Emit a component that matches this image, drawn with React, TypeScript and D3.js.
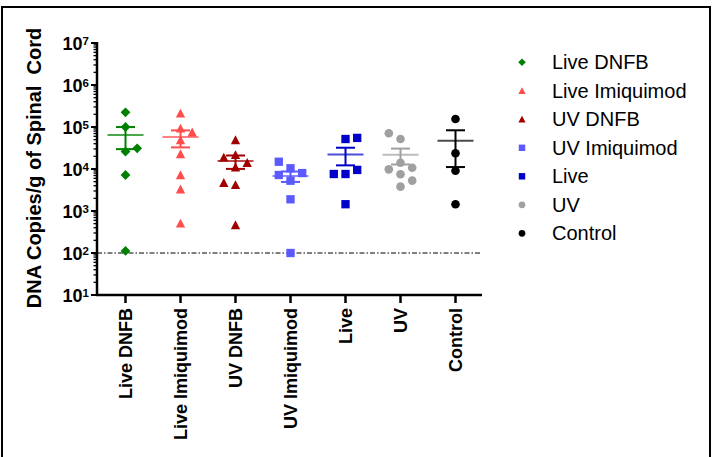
import React from "react";
import * as d3 from "d3";

// groups on the x axis
const categories = ["Live DNFB", "Live Imiquimod", "UV DNFB", "UV Imiquimod", "Live", "UV", "Control"];

// DNA copies / g of spinal cord, one array per group (order = order points were laid out)
const liveDNFB = [224000, 100000, 26000, 31000, 7200, 112];
const liveImiquimod = [212000, 93000, 49000, 75000, 22800, 7200, 3300, 510];
const uvDNFB = [49000, 11000, 14100, 21600, 19000, 4200, 4700, 464];
const uvImiquimod = [10400, 5260, 8000, 7200, 14900, 1900, 100];
const live = [51800, 55000, 7600, 7600, 9500, 1450];
const uv = [14100, 10700, 9800, 7500, 5300, 3800, 51800, 70800];
const control = [155000, 23700, 9100, 1450];

const seriesValues = [liveDNFB, liveImiquimod, uvDNFB, uvImiquimod, live, uv, control];
const shapes = ["diamond", "triangle", "triangle", "square", "square", "circle", "circle"];
const colors = ["#008000", "#ff4c4c", "#a00000", "#5a5aff", "#0000c8", "#a0a0a0", "#000000"];

const yTicks = [1e1, 1e2, 1e3, 1e4, 1e5, 1e6, 1e7];
const detectionLimit = 100;

const W = 716;
const H = 457;
const FONT = "'Liberation Sans', Arial, sans-serif";

const y = d3.scaleLog().domain([10, 1e7]).range([295, 43]);
const x = d3.scalePoint<string>().domain(categories).range([98, 483]).padding(0.5);

const STEP = 11.7;
const THRESH = 10;

// simple column scatter: push colliding points sideways to the side with more room
function dodge(values: number[]) {
  const placed: { py: number; k: number }[] = [];
  return values.map((v) => {
    const py = y(v);
    const room = (k: number) => {
      let m = Infinity;
      placed.forEach((p) => {
        if (p.k === k) m = Math.min(m, Math.abs(p.py - py));
      });
      return m;
    };
    let k = 0;
    if (room(0) < THRESH) {
      for (let j = 1; j < 10; j++) {
        const r1 = room(j);
        const r2 = room(-j);
        if (r1 >= THRESH || r2 >= THRESH) {
          k = r1 >= r2 ? j : -j;
          break;
        }
      }
    }
    placed.push({ py, k });
    return { v, py, k };
  });
}

function markerPath(shape: string, s: number) {
  if (shape === "diamond") return `M0,${-s}L${s},0L0,${s}L${-s},0Z`;
  if (shape === "triangle") return `M0,${-s * 0.95}L${s * 0.95},${s * 0.85}L${-s * 0.95},${s * 0.85}Z`;
  if (shape === "square") return `M${-s * 0.85},${-s * 0.85}h${s * 1.7}v${s * 1.7}h${-s * 1.7}Z`;
  return d3.arc()({ innerRadius: 0, outerRadius: s * 0.88, startAngle: 0, endAngle: Math.PI * 2 }) as string;
}

const App = () => {
  const axisX = 97;
  const axisY = 295;

  const minorTicks: number[] = [];
  for (let e = 1; e < 7; e++) for (let m = 2; m <= 9; m++) minorTicks.push(m * Math.pow(10, e));

  return (
    <svg width={W} height={H} style={{ position: "absolute", left: 0, top: 0, background: "#fff" }} fontFamily={FONT}>
      <rect x={2} y={7} width={708} height={470} fill="none" stroke="#000" strokeWidth={2} />

      {/* y axis title */}
      <text
        transform={`translate(41,168) rotate(-90)`}
        textAnchor="middle"
        fontSize={20}
        fontWeight="bold"
        style={{ whiteSpace: "pre" }}
      >
        {"DNA Copies/g of Spinal  Cord"}
      </text>

      {/* y axis */}
      <line x1={axisX} x2={axisX} y1={y(1e7) - 1} y2={axisY} stroke="#000" strokeWidth={2.5} />
      {minorTicks.map((t) => (
        <line key={t} x1={axisX - 3.5} x2={axisX} y1={y(t)} y2={y(t)} stroke="#000" strokeWidth={1.3} />
      ))}
      {yTicks.map((t) => (
        <g key={t}>
          <line x1={axisX - 6} x2={axisX} y1={y(t)} y2={y(t)} stroke="#000" strokeWidth={2} />
          <text x={89} y={y(t) + 7} textAnchor="end" fontSize={18} fontWeight="bold">
            10
            <tspan fontSize={11.5} dy={-5}>
              {Math.round(Math.log10(t))}
            </tspan>
          </text>
        </g>
      ))}

      {/* x axis */}
      <line x1={axisX - 1} x2={482} y1={axisY} y2={axisY} stroke="#000" strokeWidth={2.5} />
      {categories.map((c) => (
        <g key={c}>
          <line x1={x(c)} x2={x(c)} y1={axisY} y2={axisY + 8} stroke="#000" strokeWidth={2.5} />
          <text
            transform={`translate(${x(c)},308) rotate(-90)`}
            textAnchor="end"
            dy="0.36em"
            fontSize={18}
            fontWeight="bold"
          >
            {c}
          </text>
        </g>
      ))}

      {/* limit of detection */}
      <line
        x1={axisX}
        x2={482}
        y1={y(detectionLimit)}
        y2={y(detectionLimit)}
        stroke="#000"
        strokeWidth={1}
        strokeDasharray="5,2,1.5,2"
      />

      {/* points, mean and SEM */}
      {categories.map((c, i) => {
        const vals = seriesValues[i];
        const pts = dodge(vals);
        const cx = x(c) as number;
        const mean = d3.mean(vals) as number;
        const sem = (d3.deviation(vals) as number) / Math.sqrt(vals.length);
        const yHi = y(mean + sem);
        const yLo = y(mean - sem);
        return (
          <g key={c}>
            {pts.map((p, j) => (
              <path
                key={j}
                transform={`translate(${cx + p.k * STEP},${p.py})`}
                d={markerPath(shapes[i], 4.9)}
                fill={colors[i]}
              />
            ))}
            <line x1={cx} x2={cx} y1={yHi} y2={yLo} stroke={colors[i]} strokeWidth={2} />
            <line x1={cx - 9.5} x2={cx + 9.5} y1={yHi} y2={yHi} stroke={colors[i]} strokeWidth={2} />
            <line x1={cx - 9.5} x2={cx + 9.5} y1={yLo} y2={yLo} stroke={colors[i]} strokeWidth={2} />
            <line
              x1={cx - 18}
              x2={cx + 18}
              y1={y(mean)}
              y2={y(mean)}
              stroke={colors[i]}
              strokeWidth={2}
              strokeOpacity={0.7}
            />
          </g>
        );
      })}

      {/* legend */}
      {categories.map((c, i) => {
        const ly = 62.3 + i * 28.5;
        return (
          <g key={c}>
            <path transform={`translate(522,${ly})`} d={markerPath(shapes[i], 3.8)} fill={colors[i]} />
            <text x={552} y={ly + 7} fontSize={20}>
              {c}
            </text>
          </g>
        );
      })}
    </svg>
  );
};

export default App;
